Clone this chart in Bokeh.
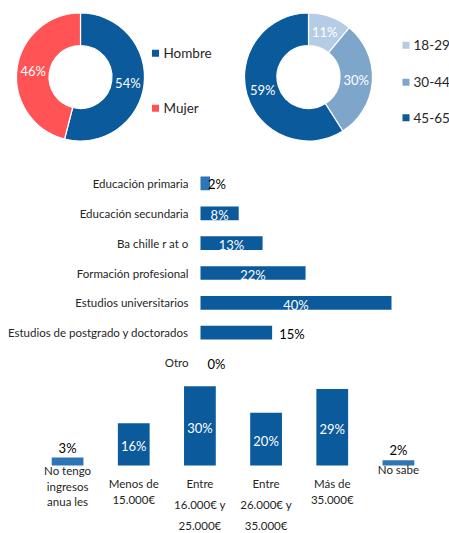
import math
import numpy as np
import pandas as pd
from bokeh.plotting import figure
from bokeh.models import ColumnDataSource, Range1d, FactorRange, Spacer
from bokeh.layouts import column, row
from bokeh.embed import file_html
from bokeh.resources import INLINE
from bokeh.core.properties import value

# ---------------- data ----------------
gender_labels = ["Hombre", "Mujer"]
gender_values = [54, 46]

age_labels = ["18-29", "30-44", "45-65"]
age_values = [11, 30, 59]

edu_labels = ["Educación primaria", "Educación secundaria", "Ba chille r at o",
              "Formación profesional", "Estudios universitarios",
              "Estudios de postgrado y doctorados", "Otro"]
edu_values = [2, 8, 13, 22, 40, 15, 0]

income_keys = ["sin", "menos15", "16a25", "26a35", "mas35", "nosabe"]
income_lines = [["No tengo", "ingresos", "anua les"],
                ["Menos de", "15.000€"],
                ["Entre", "16.000€ y", "25.000€"],
                ["Entre", "26.000€ y", "35.000€"],
                ["Más de", "35.000€"],
                ["No sabe"]]
income_values = [3, 16, 30, 20, 29, 2]

# ---------------- style ----------------
FONT = "Lato"
DARK = "#0A5A9C"
MID = "#2E75B6"
RED = "#FF5356"
TXT = "#262626"


def base_fig(w, h, xr, yr):
    p = figure(width=w, height=h, x_range=xr, y_range=yr,
               output_backend="svg", toolbar_location=None,
               x_axis_location=None, y_axis_location=None,
               min_border=0, min_border_left=0, min_border_right=0,
               min_border_top=0, min_border_bottom=0)
    p.outline_line_color = None
    p.grid.grid_line_color = None
    p.background_fill_color = "white"
    p.border_fill_color = "white"
    return p


def donut(w, h, cx, cy_top, r_in, r_out, labels, values, colors,
          leg_sq_x, leg_txt_x, leg_y_tops):
    p = base_fig(w, h, Range1d(0, w), Range1d(0, h))
    cy = h - cy_top
    frac = np.array(values, dtype=float) / sum(values)
    before = np.concatenate([[0], np.cumsum(frac)[:-1]])
    after = np.cumsum(frac)
    start = math.pi / 2 - 2 * math.pi * before
    end = math.pi / 2 - 2 * math.pi * after
    mid = math.pi / 2 - 2 * math.pi * (before + frac / 2)
    rm = (r_in + r_out) / 2
    src = ColumnDataSource(dict(start=start, end=end, color=colors,
                                lx=cx + rm * np.cos(mid), ly=cy + rm * np.sin(mid),
                                txt=[f"{v}%" for v in values]))
    p.annular_wedge(x=cx, y=cy, inner_radius=r_in, outer_radius=r_out,
                    inner_radius_units="screen", outer_radius_units="screen",
                    start_angle="start", end_angle="end", direction="clock",
                    fill_color="color", line_color="white", line_width=1.2,
                    source=src)
    p.text(x="lx", y="ly", text="txt", source=src, text_color="white",
           text_font=value(FONT), text_font_size="13px",
           text_align="center", text_baseline="middle")
    leg = ColumnDataSource(dict(x=[leg_sq_x] * len(labels),
                                tx=[leg_txt_x] * len(labels),
                                y=[h - t for t in leg_y_tops],
                                lab=labels, color=colors))
    p.scatter(x="x", y="y", marker="square", size=7, fill_color="color",
              line_color=None, source=leg)
    p.text(x="tx", y="y", text="lab", source=leg, text_color=TXT,
           text_font=value(FONT), text_font_size="13.5px",
           text_align="left", text_baseline="middle")
    return p


TOP_H = 168
p1 = donut(224, TOP_H, 80, 76.5, 31.5, 64, gender_labels, gender_values,
           [DARK, RED], 155, 163, [52.7, 107.7])
p2 = donut(225, TOP_H, 84, 76.5, 31.5, 64, age_labels, age_values,
           ["#B4CCE4", "#7EA6CA", DARK], 181.5, 189, [44.7, 81.7, 117.3])

# ---------------- education (horizontal bars) ----------------
W3, H3 = 449, 209
ORIGIN3 = 200          # pixel position of 0%
SCALE3 = 4.775         # pixels per percentage point
xr3 = Range1d(-ORIGIN3 / SCALE3, (W3 - ORIGIN3) / SCALE3)
yr3 = FactorRange(factors=list(reversed(edu_labels)), range_padding=0)
p3 = base_fig(W3, H3, xr3, yr3)

edu_inside = [False, True, True, True, True, False, False]
edu_off = [-2, 0, 0, 0, 0, 7, 7]
edu_colors = [MID] + [DARK] * (len(edu_labels) - 1)
s3 = ColumnDataSource(dict(cat=edu_labels, val=edu_values, color=edu_colors))
p3.hbar(y="cat", left=0, right="val", height=0.46, fill_color="color",
        line_color=None, source=s3)
p3.text(x=0, y="cat", text="cat", source=s3, x_offset=-12,
        text_align="right", text_baseline="middle", text_color=TXT,
        text_font=value(FONT), text_font_size="11.5px")
ins = [i for i, f in enumerate(edu_inside) if f]
outs = [i for i, f in enumerate(edu_inside) if not f]
s3i = ColumnDataSource(dict(y=[edu_labels[i] for i in ins],
                            x=[edu_values[i] / 2 for i in ins],
                            t=[f"{edu_values[i]}%" for i in ins]))
p3.text(x="x", y="y", text="t", source=s3i, y_offset=2, text_color="white",
        text_align="center", text_baseline="middle",
        text_font=value(FONT), text_font_size="13px")
s3o = ColumnDataSource(dict(y=[edu_labels[i] for i in outs],
                            x=[edu_values[i] for i in outs],
                            xo=[edu_off[i] for i in outs],
                            t=[f"{edu_values[i]}%" for i in outs]))
p3.text(x="x", y="y", text="t", source=s3o, x_offset="xo", y_offset=1,
        text_color="black", text_align="left", text_baseline="middle",
        text_font=value(FONT), text_font_size="13px")

# ---------------- income (vertical bars) ----------------
LEFT4 = 34
W4, H4 = 397, 156
BASE4 = 88             # pixel (from top) of 0%
SCALE4 = 2.64
yr4 = Range1d(-(H4 - BASE4) / SCALE4, BASE4 / SCALE4)
xr4 = FactorRange(factors=income_keys, range_padding=0)
p4 = base_fig(W4, H4, xr4, yr4)

inc_colors = [MID if v < 5 else DARK for v in income_values]
s4 = ColumnDataSource(dict(k=income_keys, v=income_values, color=inc_colors))
p4.vbar(x="k", bottom=0, top="v", width=0.48, fill_color="color",
        line_color=None, source=s4)
big = [i for i, v in enumerate(income_values) if v >= 5]
small = [i for i, v in enumerate(income_values) if v < 5]
s4i = ColumnDataSource(dict(x=[income_keys[i] for i in big],
                            y=[income_values[i] / 2 for i in big],
                            t=[f"{income_values[i]}%" for i in big]))
p4.text(x="x", y="y", text="t", source=s4i, y_offset=2, text_color="white",
        text_align="center", text_baseline="middle",
        text_font=value(FONT), text_font_size="13px")
s4o = ColumnDataSource(dict(x=[income_keys[i] for i in small],
                            y=[income_values[i] for i in small],
                            t=[f"{income_values[i]}%" for i in small]))
p4.text(x="x", y="y", text="t", source=s4o, y_offset=-2, text_color="black",
        text_align="center", text_baseline="bottom",
        text_font=value(FONT), text_font_size="13px")

first_off = [5, 18, 18, 18, 18, 4]
line_gap = [15.5, 16, 21, 21, 16, 16]
lx, ly, lt, lo = [], [], [], []
for k, lines, f, g in zip(income_keys, income_lines, first_off, line_gap):
    for j, t in enumerate(lines):
        lx.append(k); ly.append(0); lt.append(t); lo.append(f + j * g)
s4l = ColumnDataSource(dict(x=lx, y=ly, t=lt, o=lo))
p4.text(x="x", y="y", text="t", source=s4l, y_offset="o", text_color=TXT,
        text_align="center", text_baseline="middle",
        text_font=value(FONT), text_font_size="11.5px")

layout = column(row(p1, p2), p3, row(Spacer(width=LEFT4, height=H4), p4))

open("out.html", "w").write(file_html(layout, INLINE))
